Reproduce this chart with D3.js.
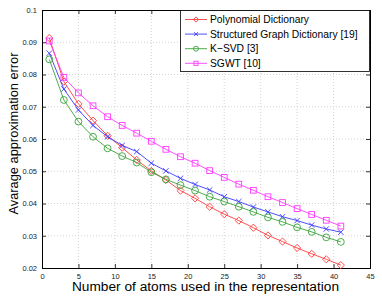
<!DOCTYPE html>
<html><head><meta charset="utf-8">
<script src="https://cdn.jsdelivr.net/npm/d3@7"></script>
<style>body{margin:0;background:#fff}</style>
</head><body>
<svg id="c" width="382" height="302"></svg>
<script>
const atoms = [1,3,5,7,9,11,13,15,17,19,21,23,25,27,29,31,33,35,37,39,41];
const polynomial = [0.0913,0.0778,0.0709,0.0657,0.0610,0.0573,0.0535,0.0501,0.0473,0.0440,0.0416,0.0390,0.0367,0.0347,0.0325,0.0301,0.0282,0.0262,0.0244,0.0227,0.0209];
const structured = [0.0866,0.0755,0.0690,0.0642,0.0607,0.0580,0.0561,0.0525,0.0501,0.0478,0.0459,0.0442,0.0421,0.0406,0.0389,0.0374,0.0359,0.0347,0.0333,0.0321,0.0311];
const ksvd = [0.0847,0.0721,0.0654,0.0607,0.0571,0.0547,0.0527,0.0497,0.0475,0.0457,0.0440,0.0421,0.0406,0.0390,0.0374,0.0357,0.0343,0.0326,0.0312,0.0295,0.0281];
const sgwt = [0.0904,0.0791,0.0743,0.0703,0.0669,0.0642,0.0618,0.0593,0.0568,0.0545,0.0525,0.0502,0.0481,0.0460,0.0441,0.0421,0.0403,0.0384,0.0366,0.0348,0.0330];
const seriesNames = ["Polynomial Dictionary","Structured Graph Dictionary [19]","K\u2212SVD [3]","SGWT [10]"];
const xTicks = [0,5,10,15,20,25,30,35,40,45];
const yTicks = [0.02,0.03,0.04,0.05,0.06,0.07,0.08,0.09,0.1];
const yTickLabels = ["0.02","0.03","0.04","0.05","0.06","0.07","0.08","0.09","0.1"];

const series = [
  {name: seriesNames[0], values: polynomial, color: "#ff3b3b", marker: "diamond"},
  {name: seriesNames[1], values: structured, color: "#3b3bff", marker: "x"},
  {name: seriesNames[2], values: ksvd, color: "#3aa33a", marker: "circle"},
  {name: seriesNames[3], values: sgwt, color: "#ff3bff", marker: "square"}
];

const svg = d3.select("#c");
const L = 42, R = 370, T = 10, B = 268;
const x = d3.scaleLinear().domain([0,45]).range([L,R]);
const y = d3.scaleLinear().domain([0.02,0.1]).range([B,T]);

// grid
const g = svg.append("g");
g.selectAll(".gx").data(xTicks.slice(1,-1)).enter().append("line")
  .attr("x1", d=>x(d)).attr("x2", d=>x(d)).attr("y1", T).attr("y2", B)
  .attr("stroke","#c8c8c8").attr("stroke-width",0.8).attr("stroke-dasharray","1,2");
g.selectAll(".gy").data(yTicks.slice(1,-1)).enter().append("line")
  .attr("y1", d=>y(d)).attr("y2", d=>y(d)).attr("x1", L).attr("x2", R)
  .attr("stroke","#c8c8c8").attr("stroke-width",0.8).attr("stroke-dasharray","1,2");

// axes
const xAxis = d3.axisBottom(x).tickValues(xTicks).tickSize(-4).tickPadding(6).tickFormat(d3.format("d"));
const yAxis = d3.axisLeft(y).tickValues(yTicks).tickSize(-4).tickPadding(5).tickFormat((d,i)=>yTickLabels[i]);
const xa = svg.append("g").attr("transform",`translate(0,${B})`).call(xAxis);
const ya = svg.append("g").attr("transform",`translate(${L},0)`).call(yAxis);
const xa2 = svg.append("g").attr("transform",`translate(0,${T})`).call(d3.axisTop(x).tickValues(xTicks).tickSize(-4).tickFormat(""));
const ya2 = svg.append("g").attr("transform",`translate(${R},0)`).call(d3.axisRight(y).tickValues(yTicks).tickSize(-4).tickFormat(""));
[xa,ya,xa2,ya2].forEach(a=>{
  a.select(".domain").attr("stroke","#000").attr("stroke-width",1);
  a.selectAll(".tick line").attr("stroke","#000").attr("stroke-width",0.8);
  a.selectAll("text").attr("font-family","Liberation Sans, Arial, sans-serif").attr("font-size",7.5).attr("fill","#222");
});
xa.selectAll("text").attr("dy","0.6em");

// markers
function drawMarker(sel, type, color, s) {
  if (type === "diamond") {
    sel.append("path").attr("d", `M0,${-s}L${s},0L0,${s}L${-s},0Z`).attr("fill","none").attr("stroke",color).attr("stroke-width",0.9);
  } else if (type === "x") {
    const k = s*0.75;
    sel.append("path").attr("d", `M${-k},${-k}L${k},${k}M${-k},${k}L${k},${-k}`).attr("stroke",color).attr("stroke-width",0.9);
  } else if (type === "circle") {
    sel.append("circle").attr("r", s*0.95).attr("fill","none").attr("stroke",color).attr("stroke-width",0.9);
  } else if (type === "square") {
    const k = s*0.8;
    sel.append("rect").attr("x",-k).attr("y",-k).attr("width",2*k).attr("height",2*k).attr("fill","none").attr("stroke",color).attr("stroke-width",0.9);
  }
}

const line = d3.line().x((d,i)=>x(atoms[i])).y(d=>y(d));
series.forEach(s=>{
  svg.append("path").attr("d", line(s.values)).attr("fill","none").attr("stroke",s.color).attr("stroke-width",0.9);
  s.values.forEach((v,i)=>{
    const m = svg.append("g").attr("transform",`translate(${x(atoms[i])},${y(v)})`);
    drawMarker(m, s.marker, s.color, 3.6);
  });
});

// legend
const lg = svg.append("g");
lg.append("rect").attr("x",180.5).attr("y",10.5).attr("width",189).attr("height",61).attr("fill","#fff").attr("stroke","#000").attr("stroke-width",0.8);
series.forEach((s,i)=>{
  const yy = 19.5 + i*14.6;
  lg.append("line").attr("x1",185).attr("x2",207).attr("y1",yy).attr("y2",yy).attr("stroke",s.color).attr("stroke-width",0.9);
  const m = lg.append("g").attr("transform",`translate(196,${yy})`);
  drawMarker(m, s.marker, s.color, 2.6);
  lg.append("text").attr("x",210).attr("y",yy).attr("dy","0.35em").text(s.name)
    .attr("font-family","Liberation Sans, Arial, sans-serif").attr("font-size",10.3).attr("fill","#000");
});

// axis titles
svg.append("text").attr("x",205.5).attr("y",291).attr("text-anchor","middle")
  .attr("font-family","Liberation Sans, Arial, sans-serif").attr("font-size",13.7).attr("fill","#000")
  .text("Number of atoms used in the representation");
svg.append("text").attr("transform",`translate(18,133.5) rotate(-90)`).attr("text-anchor","middle")
  .attr("font-family","Liberation Sans, Arial, sans-serif").attr("font-size",12.8).attr("fill","#000")
  .text("Avarage approximation error");
</script>
</body></html>
